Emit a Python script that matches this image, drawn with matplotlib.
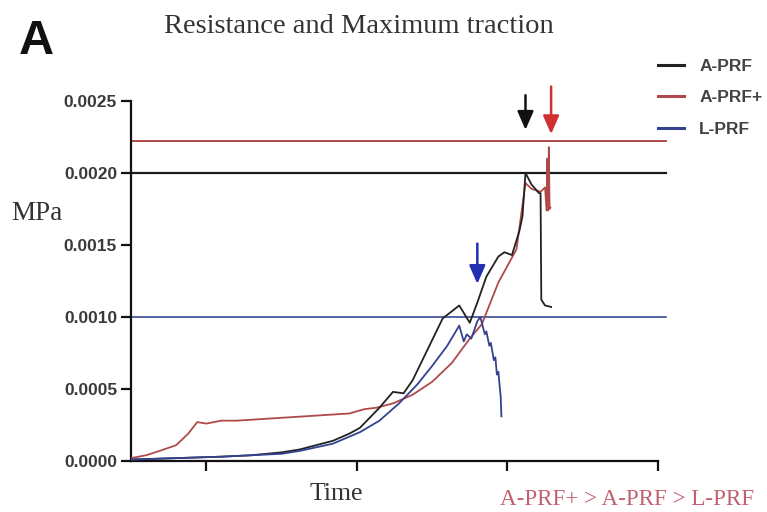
import matplotlib
matplotlib.use("Agg")
import matplotlib.pyplot as plt
import numpy as np

# ---- data (x in arbitrary time units, y in MPa) ----
aprf_plus_x = [0.00, 0.10, 0.19, 0.30, 0.38, 0.44, 0.50, 0.60, 0.70, 0.85, 1.00, 1.15, 1.30, 1.45,
               1.55, 1.63, 1.74, 1.87, 2.00, 2.13, 2.25, 2.33, 2.44, 2.56, 2.62, 2.66, 2.72, 2.75,
               2.760, 2.765, 2.770, 2.775, 2.780, 2.785]
aprf_plus_y = [0.00002, 0.00004, 0.00007, 0.00011, 0.00019, 0.00027, 0.00026, 0.00028, 0.00028,
               0.00029, 0.00030, 0.00031, 0.00032, 0.00033, 0.00036, 0.00037, 0.00040, 0.00046,
               0.00055, 0.00068, 0.00085, 0.00095, 0.00124, 0.00147, 0.00193, 0.00189, 0.00187,
               0.00190, 0.00174, 0.00210, 0.00174, 0.00218, 0.00175, 0.00176]

aprf_x = [0.00, 0.30, 0.60, 0.80, 1.00, 1.12, 1.34, 1.45, 1.52, 1.65, 1.74, 1.81, 1.87, 2.07,
          2.18, 2.25, 2.30, 2.36, 2.44, 2.48, 2.53, 2.58, 2.60, 2.62, 2.66, 2.71, 2.72, 2.725,
          2.75, 2.79]
aprf_y = [0.00001, 0.00002, 0.00003, 0.00004, 0.00006, 0.00008, 0.00014, 0.00019, 0.00023,
          0.00037, 0.00048, 0.00047, 0.00056, 0.00099, 0.00108, 0.00096, 0.00110, 0.00128,
          0.00142, 0.00145, 0.00143, 0.00160, 0.00170, 0.00200, 0.00192, 0.00186, 0.00186,
          0.00112, 0.00108, 0.00107]

lprf_x = [0.00, 0.30, 0.60, 0.80, 1.00, 1.12, 1.34, 1.52, 1.65, 1.78, 1.90, 2.00, 2.10, 2.18,
          2.21, 2.23, 2.26, 2.30, 2.32, 2.35, 2.36, 2.38, 2.39, 2.41, 2.42, 2.43, 2.44, 2.45,
          2.455, 2.46]
lprf_y = [0.00001, 0.00002, 0.00003, 0.00004, 0.00005, 0.00007, 0.00012, 0.00020, 0.00028,
          0.00040, 0.00053, 0.00066, 0.00080, 0.00094, 0.00083, 0.00088, 0.00085, 0.00097,
          0.00100, 0.00088, 0.00090, 0.00080, 0.00082, 0.00070, 0.00072, 0.00060, 0.00062,
          0.00050, 0.00045, 0.00031]

series_labels = ["A-PRF", "A-PRF+", "L-PRF"]
series_colors = ["#222222", "#b04a4a", "#34428f"]

ref_levels = [0.00222, 0.0020, 0.0010]
ref_colors = ["#a83a3a", "#1a1a1a", "#3a4a9a"]

arrow_x = [2.62, 2.79, 2.30]
arrow_top = [0.00254, 0.00260, 0.00151]
arrow_tip = [0.00230, 0.00227, 0.00123]
arrow_colors = ["#111111", "#d03030", "#2030b0"]

yticks = [0.0, 0.0005, 0.0010, 0.0015, 0.0020, 0.0025]
xticks = [0.5, 1.5, 2.5, 3.5]

# ---- figure ----
fig = plt.figure(figsize=(7.67, 5.12), dpi=100)
ax = fig.add_axes([131/767, 51/512, 527/767, 360/512])

ax.plot(aprf_x, aprf_y, color=series_colors[0], lw=1.3, label=series_labels[0], zorder=4)
ax.plot(aprf_plus_x, aprf_plus_y, color=series_colors[1], lw=1.3, label=series_labels[1], zorder=3)
ax.plot(lprf_x, lprf_y, color=series_colors[2], lw=1.3, label=series_labels[2], zorder=5)

for lvl, c, lw in zip(ref_levels, ref_colors, [1.3, 1.6, 1.2]):
    ax.plot([0, 3.55], [lvl, lvl], color=c, lw=lw, clip_on=False, zorder=2)

for x, t, b, c in zip(arrow_x, arrow_top, arrow_tip, arrow_colors):
    ax.annotate("", xy=(x, b), xytext=(x, t), annotation_clip=False,
                arrowprops=dict(arrowstyle="-|>,head_width=0.35,head_length=0.8",
                                color=c, lw=1.8, mutation_scale=14,
                                shrinkA=0, shrinkB=0))

ax.set_xlim(0, 3.5)
ax.set_ylim(0, 0.0025)
ax.set_xticks(xticks)
ax.set_xticklabels([])
ax.set_yticks(yticks)
ax.set_yticklabels([f"{v:.4f}" for v in yticks], fontsize=12.5, fontweight="bold",
                   color="#3a3a3a", family="Liberation Sans")
for s in ["top", "right"]:
    ax.spines[s].set_visible(False)
for s in ["left", "bottom"]:
    ax.spines[s].set_linewidth(1.6)
    ax.spines[s].set_color("#111111")
ax.tick_params(direction="out", length=7, width=1.6, colors="#111111", pad=3)
for lab in ax.get_yticklabels():
    lab.set_color("#3a3a3a")

leg = fig.legend(loc="upper left", bbox_to_anchor=(0.838, 0.916), frameon=False,
                 handlelength=1.5, handletextpad=0.85, labelspacing=0.95,
                 prop=dict(family="Liberation Sans", weight="bold", size=12.5))
for t in leg.get_texts():
    t.set_color("#444444")
for h in leg.get_lines():
    h.set_linewidth(2.2)

fig.text(0.468, 0.948, "Resistance and Maximum traction", ha="center", va="center",
         family="Liberation Serif", fontsize=20.5, color="#333333")
fig.text(0.024, 0.918, "A", ha="left", va="center", family="Liberation Sans",
         fontweight="bold", fontsize=35, color="#111111")
fig.text(0.015, 0.583, "MPa", ha="left", va="center", family="Liberation Serif",
         fontsize=19.5, color="#333333")
fig.text(0.438, 0.035, "Time", ha="center", va="center", family="Liberation Serif",
         fontsize=18.5, color="#333333")
fig.text(0.817, 0.024, "A-PRF+ > A-PRF > L-PRF", ha="center", va="center",
         family="Liberation Serif", fontsize=16.6, color="#c06070")

fig.savefig("out.png", dpi=100)
